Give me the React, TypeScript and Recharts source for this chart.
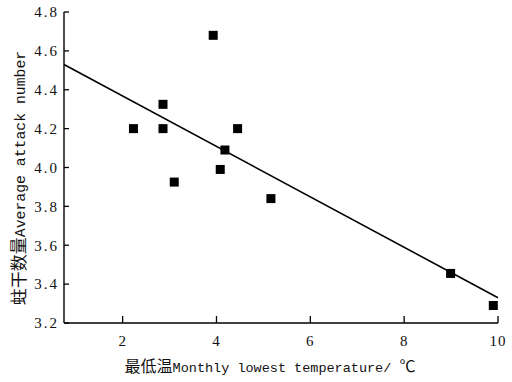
import React from "react";
import { ScatterChart, Scatter, XAxis, YAxis, ReferenceLine } from "recharts";

const tempValues = [2.23, 2.86, 2.86, 3.1, 3.93, 4.18, 4.08, 4.45, 5.16, 8.99, 9.9];
const attackValues = [4.2, 4.325, 4.2, 3.925, 4.68, 4.09, 3.99, 4.2, 3.84, 3.455, 3.29];
const fitLine = [
  { x: 0.75, y: 4.53 },
  { x: 10, y: 3.33 },
];
const xTicks = [2, 4, 6, 8, 10];
const yTicks = [3.2, 3.4, 3.6, 3.8, 4.0, 4.2, 4.4, 4.6, 4.8];
const xTitleCJK = "最低温";
const xTitleLatin = "Monthly lowest temperature/ ";
const xTitleUnit = "℃";
const yTitleCJK = "蛀干数量";
const yTitleLatin = "Average attack number";

const points = tempValues.map((x, i) => ({ x, y: attackValues[i] }));

const tickFont = "Liberation Serif";
const titleFont = "Liberation Mono, Noto Sans CJK SC, monospace";

const XTitle = () => (
  <text x={270} y={372} textAnchor="middle" style={{ fontFamily: titleFont, fill: "#111" }}>
    <tspan fontSize={16}>{xTitleCJK}</tspan>
    <tspan fontSize={13.5}>{xTitleLatin}</tspan>
    <tspan fontSize={16}>{xTitleUnit}</tspan>
  </text>
);

const YTitle = () => (
  <text
    x={25}
    y={178}
    textAnchor="middle"
    transform="rotate(-90, 25, 178)"
    style={{ fontFamily: titleFont, fill: "#111" }}
  >
    <tspan fontSize={17}>{yTitleCJK}</tspan>
    <tspan fontSize={14.8}>{yTitleLatin}</tspan>
  </text>
);

const SquareMark = (props: any) => {
  const { cx, cy } = props;
  if (cx == null || cy == null) return null;
  return <rect x={cx - 4.5} y={cy - 4.5} width={9} height={9} fill="#000" />;
};

const yFmt = (v: number) => Number(v).toFixed(1);

export default function App() {
  return (
    <div style={{ position: "absolute", left: 0, top: 0, background: "#fff" }}>
      <ScatterChart
        width={512}
        height={382}
        margin={{ top: 12, right: 14, left: 0, bottom: 0 }}
      >
        <XAxis
          type="number"
          dataKey="x"
          domain={[0.75, 10]}
          ticks={xTicks}
          allowDataOverflow
          height={59}
          tickSize={-7}
          tickMargin={19}
          tickLine={{ stroke: "#000", strokeWidth: 1.3 }}
          tick={{ fill: "#111", fontSize: 15, fontFamily: tickFont, letterSpacing: 1 }}
          axisLine={{ stroke: "#000", strokeWidth: 1.4 }}
          label={<XTitle />}
        />
        <YAxis
          type="number"
          dataKey="y"
          domain={[3.2, 4.8]}
          ticks={yTicks}
          tickFormatter={yFmt}
          allowDataOverflow
          width={64}
          tickSize={-5}
          tickMargin={10}
          tickLine={{ stroke: "#000", strokeWidth: 1.3 }}
          tick={{ fill: "#111", fontSize: 15, fontFamily: tickFont, letterSpacing: 2 }}
          axisLine={{ stroke: "#000", strokeWidth: 1.4 }}
          label={<YTitle />}
        />
        <ReferenceLine
          segment={fitLine}
          stroke="#000"
          strokeWidth={1.6}
          ifOverflow="visible"
        />
        <Scatter data={points} shape={<SquareMark />} isAnimationActive={false} />
      </ScatterChart>
    </div>
  );
}
